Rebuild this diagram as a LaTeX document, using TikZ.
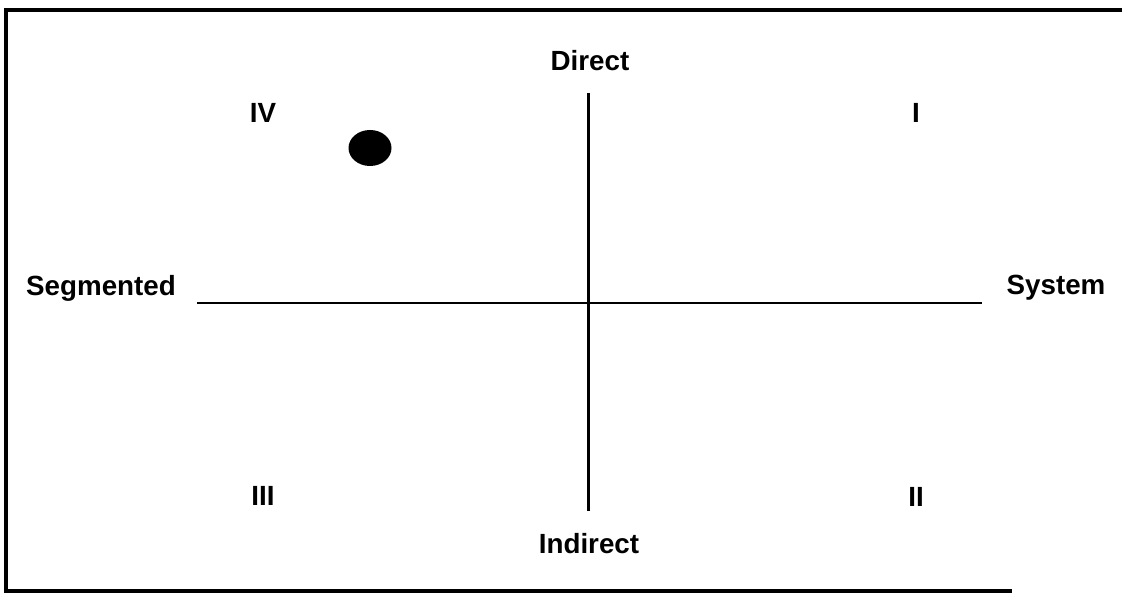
\documentclass[tikz,border=0pt]{standalone}
\usepackage{fontspec}
\setmainfont{Liberation Sans}
\tikzset{
  lbl/.style={font=\fontsize{15.8}{18}\selectfont\bfseries, inner sep=0pt, anchor=base},
  frame/.style={line width=1.9pt},
  axis/.style={line width=1.7pt},
}
\begin{document}
\begin{tikzpicture}[x=0.02cm,y=-0.02cm]
\useasboundingbox (0,0) rectangle (1122,594);
% frame
\coordinate (tl) at (6,10);
\coordinate (tr) at (1122,10);
\coordinate (bl) at (6,591);
\coordinate (br) at (1012,591);
\draw[frame] (tr) -- (tl) -- (bl) -- (br);
% axes
\coordinate (vtop) at (588,93);
\coordinate (vbot) at (588,511);
\coordinate (hl) at (197,303);
\coordinate (hr) at (982,303);
\draw[axis] (vtop) -- (vbot);
\draw[axis] (hl) -- (hr);
% labels
\node[lbl] (direct) at (590,71) {Direct};
\node[lbl] (indirect) at (589,553) {Indirect};
\node[lbl] (seg) at (101,296) {Segmented};
\node[lbl] (sys) at (1056,295) {System};
\node[lbl] (q4) at (263,123) {IV};
\node[lbl] (q1) at (916,123) {I};
\node[lbl] (q3) at (263,505) {III};
\node[lbl] (q2) at (916,506) {II};
% dot
\fill (370,148) ellipse [x radius=21.5, y radius=18];
\end{tikzpicture}
\end{document}
